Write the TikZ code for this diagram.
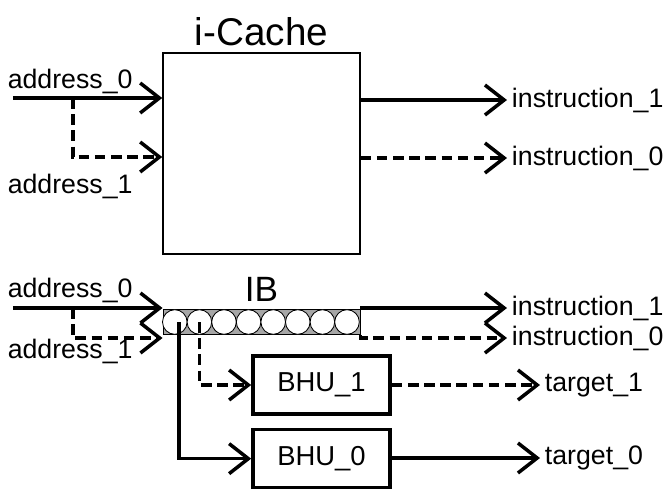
\documentclass[tikz,border=0pt]{standalone}
\usepackage{fontspec}
\setmainfont{Liberation Sans}
\usetikzlibrary{positioning, arrows.meta, calc}

\begin{document}
\begin{tikzpicture}[
	% Estilo para la cache de instrucciones
	cachebox/.style={
		draw,
		rectangle,
		line width=1.1pt,
		minimum width=4.925cm,
		minimum height=5.025cm
	},
	% Estilo para el buffer de instrucciones
	bufferbox/.style={
		draw,
		rectangle,
		fill=gray!70,
		line width=0.7pt,
		minimum width=4.925cm,
		minimum height=0.615cm,
		inner sep=0pt
	},
	% Estilo para cada hueco del buffer
	slot/.style={
		draw,
		circle,
		fill=white,
		line width=0.6pt,
		minimum size=0.615cm,
		inner sep=0pt,
		outer sep=0pt
	},
	% Estilo para las unidades BHU
	bhubox/.style={
		draw,
		rectangle,
		line width=2.6pt,
		minimum width=3.425cm,
		minimum height=1.45cm,
		font=\fontsize{19.5}{22}\selectfont
	},
	% Estilo para los textos de las senales
	sig/.style={
		font=\fontsize{19}{22}\selectfont
	},
	% Estilo para los titulos
	heading/.style={
		font=\fontsize{27.5}{30}\selectfont
	},
	% Estilo para las flechas (continuas y discontinuas)
	bus/.style={
		line width=2.5pt,
		line join=miter,
		-{Straight Barb[length=4.8mm, width=7.5mm]}
	},
	altbus/.style={
		bus,
		dash pattern=on 7.5pt off 4pt
	}
	]
	
	\path[use as bounding box] (0,0) rectangle (16.675,-12.2);
	
	% --- i-Cache ---
	\node[cachebox] (cache) at (6.5375,-3.8375) {};
	\node[heading, above=0.03cm of cache] (cachetitle) {i-Cache};
	
	% Entradas de la cache
	\node[sig, anchor=base west] (caddr0) at (0.07,-2.2) {address\_0};
	\node[sig, anchor=base west] (caddr1) at (0.07,-4.825) {address\_1};
	\coordinate (cin0) at (0.325,-2.45);
	\coordinate (cfork) at (1.825,-2.45);
	\coordinate (cin1) at (1.825,-3.925);
	\draw[bus] (cin0) -- (cin0 -| cache.west);
	\draw[altbus] (cfork) -- (cin1) -- (cin1 -| cache.west);
	
	% Salidas de la cache
	\node[sig, anchor=west] (cins1) at (12.675,-2.5) {instruction\_1};
	\node[sig, anchor=west] (cins0) at (12.675,-3.95) {instruction\_0};
	\draw[bus] (cache.east |- cins1) -- (cins1.west);
	\draw[altbus] (cache.east |- cins0) -- (cins0.west);
	
	% --- IB ---
	\node[bufferbox] (ib) at (6.5375,-8.05) {};
	\node[heading, above=0.07cm of ib, font=\fontsize{25}{28}\selectfont] (ibtitle) {IB};
	\node[slot, anchor=west] (c1) at (ib.west) {};
	\node[slot, right=0 of c1] (c2) {};
	\node[slot, right=0 of c2] (c3) {};
	\node[slot, right=0 of c3] (c4) {};
	\node[slot, right=0 of c4] (c5) {};
	\node[slot, right=0 of c5] (c6) {};
	\node[slot, right=0 of c6] (c7) {};
	\node[slot, right=0 of c7] (c8) {};
	
	% Entradas del IB
	\node[sig, anchor=base west] (baddr0) at (0.07,-7.425) {address\_0};
	\node[sig, anchor=base west] (baddr1) at (0.07,-8.95) {address\_1};
	\coordinate (bin0) at (0.325,-7.7);
	\coordinate (bfork) at (1.825,-7.7);
	\coordinate (bin1) at (1.825,-8.45);
	\draw[bus] (bin0) -- (bin0 -| ib.west);
	\draw[altbus] (bfork) -- (bin1) -- (bin1 -| ib.west);
	
	% Salidas del IB
	\node[sig, anchor=west] (bins1) at (12.675,-7.7) {instruction\_1};
	\node[sig, anchor=west] (bins0) at (12.675,-8.45) {instruction\_0};
	\draw[bus] (ib.east |- bins1) -- (bins1.west);
	\draw[altbus] (ib.south east) -- (ib.south east |- bins0) -- (bins0.west);
	
	% --- Unidades BHU ---
	\node[bhubox] (bhu1) at (8.0375,-9.625) {BHU\_1};
	\node[bhubox, below=0.3cm of bhu1] (bhu0) {BHU\_0};
	\draw[altbus] (c2.center) |- (bhu1.west);
	\draw[bus] ([xshift=0.1cm]c1.center) |- (bhu0.west);
	
	% Destinos de salto
	\node[sig, anchor=west] (tgt1) at (13.5,-9.625) {target\_1};
	\node[sig, anchor=west] (tgt0) at (13.5,-11.45) {target\_0};
	\draw[altbus] (bhu1.east) -- (tgt1.west);
	\draw[bus] (bhu0.east |- tgt0) -- (tgt0.west);
	
\end{tikzpicture}
\end{document}
